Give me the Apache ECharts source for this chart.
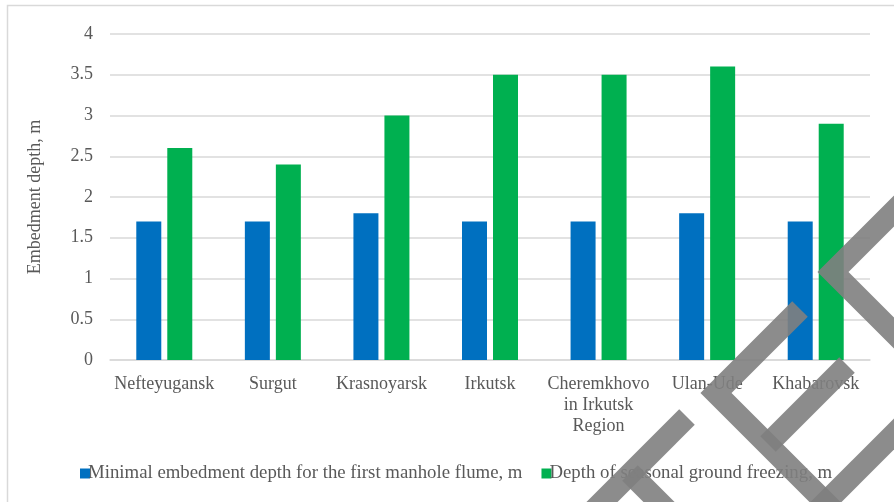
<!DOCTYPE html>
<html>
<head>
<meta charset="utf-8">
<script src="https://cdn.jsdelivr.net/npm/echarts@6/dist/echarts.min.js"></script>
<style>
  html, body { margin: 0; padding: 0; background: #fff; }
  #chart { width: 894px; height: 502px; }
</style>
</head>
<body>
<div id="chart"></div>
<script>
const cities = ['Nefteyugansk', 'Surgut', 'Krasnoyarsk', 'Irkutsk', 'Cheremkhovo\nin Irkutsk\nRegion', 'Ulan-Ude', 'Khabarovsk']
const minDepth = [1.7, 1.7, 1.8, 1.7, 1.7, 1.8, 1.7]
const freezeDepth = [2.6, 2.4, 3.0, 3.5, 3.5, 3.6, 2.9]
const seriesNames = ['Minimal embedment depth for the first manhole flume, m', 'Depth of seasonal ground freezing, m']

const font = 'Liberation Serif'
const textColor = '#595959'
const gridColor = '#d9d9d9'

// watermark strokes (decoration over the picture)
const wmStyle = { stroke: 'rgba(128,128,128,0.9)', lineWidth: 22, fill: null, lineJoin: 'miter', lineCap: 'butt' }
const watermark = [
  [[687, 417], [580, 524]],
  [[630, 473], [690, 533]],
  [[800, 309], [716, 393], [840, 517]],
  [[847, 365], [768, 444]],
  [[780, 548], [920, 408]],
  [[930, 175], [833, 272], [930, 369]],
].map(pts => ({
  type: 'polyline',
  z: 100,
  silent: true,
  shape: { points: pts },
  style: wmStyle,
}))

const chart = echarts.init(document.getElementById('chart'))
chart.setOption({
  animation: false,
  textStyle: { fontFamily: font },
  grid: { left: 110, right: 24, top: 34, bottom: 142 },
  legend: {
    left: 75,
    top: 459,
    itemWidth: 10,
    itemHeight: 10,
    itemGap: 19,
    icon: 'rect',
    textStyle: { fontFamily: font, fontSize: 18.8, color: textColor, padding: [0, 0, 0, -7] },
    data: seriesNames,
  },
  xAxis: {
    type: 'category',
    data: cities,
    axisTick: { show: false },
    axisLine: { lineStyle: { color: gridColor, width: 1.5 } },
    axisLabel: { fontFamily: font, fontSize: 18, color: textColor, margin: 14, lineHeight: 21, interval: 0 },
  },
  yAxis: {
    type: 'value',
    min: 0,
    max: 4,
    interval: 0.5,
    name: 'Embedment depth, m',
    nameLocation: 'middle',
    nameGap: 66,
    nameTextStyle: { fontFamily: font, fontSize: 18, color: textColor },
    axisLine: { show: false },
    axisTick: { show: false },
    axisLabel: { fontFamily: font, fontSize: 18, color: textColor, margin: 17 },
    splitLine: { lineStyle: { color: gridColor, width: 1.5 } },
  },
  series: [
    {
      name: seriesNames[0],
      type: 'bar',
      data: minDepth,
      barWidth: 25,
      barGap: '24%',
      itemStyle: { color: '#0070C0' },
    },
    {
      name: seriesNames[1],
      type: 'bar',
      data: freezeDepth,
      barWidth: 25,
      itemStyle: { color: '#00B050' },
    },
  ],
  graphic: [
    {
      type: 'rect',
      silent: true,
      shape: { x: 7.5, y: 5.5, width: 1000, height: 1000 },
      style: { stroke: gridColor, lineWidth: 1.5, fill: null },
    },
  ].concat(watermark),
})
</script>
</body>
</html>
